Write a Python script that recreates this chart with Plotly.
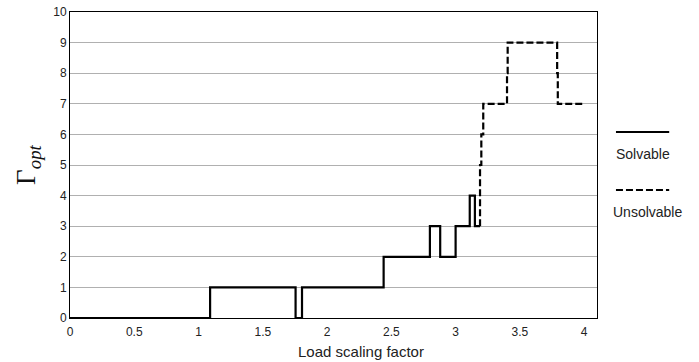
import plotly.graph_objects as go

# Data (step series)
solv_x = [0, 1.09, 1.755, 1.805, 2.44, 2.80, 2.88, 3.00, 3.11, 3.15, 3.19]
solv_y = [0, 1, 0, 1, 2, 3, 2, 3, 4, 3, 3]
unsolv_x = [3.19, 3.19, 3.20, 3.215, 3.40, 3.405, 3.79, 3.795, 4.0]
unsolv_y = [3, 5, 6, 7, 8, 9, 8, 7, 7]
series_names = ["Solvable", "Unsolvable"]
x_ticks = [0, 0.5, 1, 1.5, 2, 2.5, 3, 3.5, 4]
x_tick_labels = ["0", "0.5", "1", "1.5", "2", "2.5", "3", "3.5", "4"]
y_ticks = list(range(0, 11))
x_title = "Load scaling factor"
y_title = "Γ<sub><i>opt</i></sub>"

fig = go.Figure()
fig.add_trace(go.Scatter(x=solv_x, y=solv_y, mode="lines", line_shape="hv",
                         line=dict(color="black", width=2.2), name=series_names[0],
                         showlegend=False))
fig.add_trace(go.Scatter(x=unsolv_x, y=unsolv_y, mode="lines", line_shape="hv",
                         line=dict(color="black", width=2.2, dash="7px,3px"),
                         name=series_names[1], showlegend=False))

# Manual legend (line sample above label)
legend_items = [(series_names[0], "solid", 0.608, 0.536, 1.087),
                (series_names[1], "7px,3px", 0.418, 0.346, 1.095)]
for name, dash, ly, ty, tx in legend_items:
    fig.add_shape(type="line", xref="paper", yref="paper",
                  x0=1.036, x1=1.137, y0=ly, y1=ly,
                  line=dict(color="black", width=2, dash=dash))
    fig.add_annotation(text=name, xref="paper", yref="paper", x=tx, y=ty,
                       showarrow=False, xanchor="center", yanchor="middle",
                       font=dict(family="Liberation Sans, Arial", size=14, color="#222"))

# x axis title (centered slightly right of plot center, as in reference)
fig.add_annotation(text=x_title, xref="paper", yref="paper", x=0.552, y=-0.108,
                   showarrow=False, xanchor="center", yanchor="middle",
                   font=dict(family="Liberation Sans, Arial", size=15, color="#222"))

fig.update_layout(
    width=699, height=362,
    margin=dict(l=70, r=102, t=12, b=44, autoexpand=False),
    paper_bgcolor="white", plot_bgcolor="white",
    font=dict(family="Liberation Sans, Arial", size=12, color="#222"),
)
fig.update_xaxes(range=[0, 4.1], tickvals=x_ticks, ticktext=x_tick_labels,
                 showgrid=False, zeroline=False, showline=True, linecolor="black",
                 linewidth=1, mirror=True, ticks="", tickfont=dict(size=12),
                 automargin=False, ticklabeloverflow="allow", ticklabelstandoff=3)
fig.update_yaxes(range=[0, 10], tickvals=y_ticks, showgrid=True, gridcolor="#b0b0b0",
                 gridwidth=1, zeroline=False, showline=True, linecolor="black",
                 linewidth=1, mirror=True, ticks="", tickfont=dict(size=12),
                 automargin=False, ticklabeloverflow="allow",
                 title=dict(text=y_title,
                            font=dict(family="Liberation Serif, Times New Roman", size=27,
                                      color="#111"),
                            standoff=9))

fig.write_html("out.html", config={"displayModeBar": False},
               post_script="document.body.style.margin='0';")
